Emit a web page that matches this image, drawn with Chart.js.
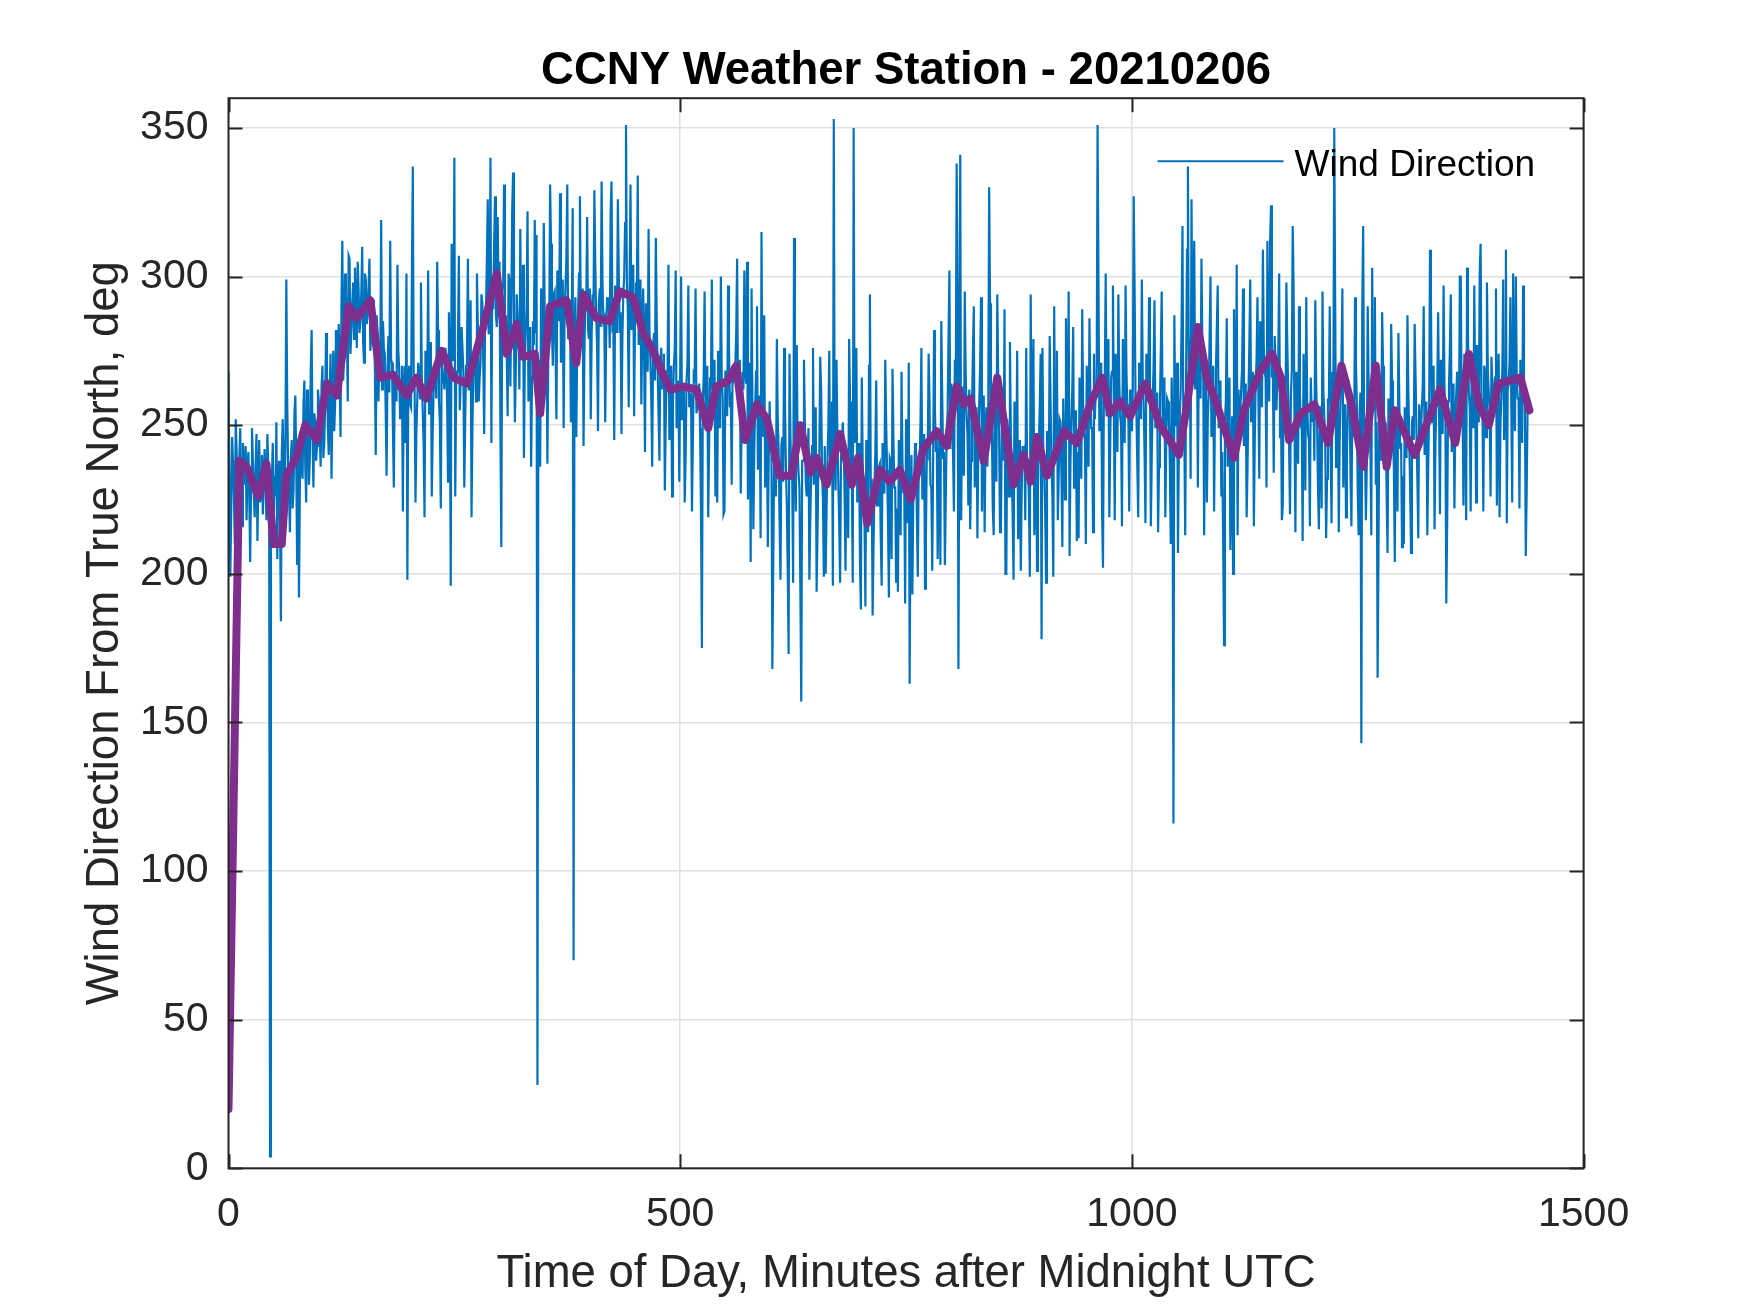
<!DOCTYPE html>
<html>
<head>
<meta charset="utf-8">
<script src="https://cdn.jsdelivr.net/npm/chart.js@4.4.1/dist/chart.umd.min.js"></script>
<style>
  html, body { margin: 0; padding: 0; background: #ffffff; }
  #wrap { width: 1750px; height: 1313px; position: relative; }
  canvas { display: block; }
</style>
</head>
<body>
<div id="wrap"><canvas id="c" width="1750" height="1313"></canvas></div>
<script>
// ---- Data ----
const chartTitle = 'CCNY Weather Station - 20210206';
const xAxisLabel = 'Time of Day, Minutes after Midnight UTC';
const yAxisLabel = 'Wind Direction From True North, deg';
const legendLabel = 'Wind Direction';

const xTickValues = [0, 500, 1000, 1500];
const yTickValues = [0, 50, 100, 150, 200, 250, 300, 350];

// wind direction samples, one per minute starting at minute 0 (20 per row)
const sampleStepMinutes = 1;
const windDirection = [
  268,232,199,221,246,238,226,210,252,241,213,227,239,249,222,216,244,236,230,243,
  218,235,241,226,204,231,249,238,226,219,236,247,211,230,245,224,229,240,220,233,
  242,229,218,247,236,221,4,228,231,244,216,233,226,251,205,232,238,219,184,241,
  252,236,221,243,299,258,236,227,214,239,245,222,228,254,260,237,203,244,192,229,
  248,239,232,257,265,236,224,262,256,230,238,268,282,247,229,254,251,238,243,262,
  258,246,236,263,270,239,244,257,281,266,249,240,262,274,232,255,275,248,257,282,
  268,262,284,270,246,289,312,265,277,301,295,283,258,307,306,274,282,291,298,279,
  303,289,276,305,296,281,285,294,310,278,271,301,299,284,288,296,306,275,280,292,
  292,283,270,240,287,281,258,272,271,319,262,285,276,274,255,233,268,280,261,312,
  272,271,249,229,266,262,258,304,275,268,252,259,270,221,263,270,244,301,198,263,
  270,257,256,300,337,266,262,224,248,259,271,268,259,298,266,255,243,219,275,264,
  262,302,254,268,278,226,247,261,268,270,259,305,282,258,251,222,273,267,266,262,
  276,274,258,231,288,266,196,311,272,272,340,226,264,268,279,307,255,265,283,276,
  268,229,251,270,275,306,262,262,292,219,249,268,271,273,258,301,283,258,266,271,
  294,291,272,247,286,288,306,326,281,281,340,244,298,289,311,327,287,283,320,290,
  305,248,209,296,296,331,282,287,274,253,301,299,263,289,322,335,280,251,268,294,
  286,283,262,316,279,274,304,239,271,281,290,322,258,276,283,236,266,285,277,319,
  281,314,28,269,272,236,296,279,265,318,288,273,279,237,274,283,331,311,283,270,
  294,295,276,252,302,287,285,328,271,293,299,249,288,296,306,331,279,286,292,251,
  287,323,70,281,293,246,278,289,301,327,284,284,296,243,275,291,290,320,282,279,
  296,252,281,294,289,329,304,287,277,248,292,296,283,332,298,285,286,251,279,293,
  291,291,276,322,332,283,284,245,297,289,281,326,301,281,288,247,279,294,300,318,
  351,297,289,256,298,331,282,291,304,253,286,298,293,334,277,288,299,257,284,296,
  275,241,291,283,268,316,282,272,259,236,277,281,265,313,286,269,254,238,271,276,
  262,271,274,228,251,268,268,304,245,263,270,226,258,270,276,302,249,262,265,231,
  268,300,252,258,263,224,239,265,271,297,256,259,260,221,244,267,266,296,254,256,
  262,264,249,222,175,258,266,295,251,262,270,219,243,266,262,299,255,255,272,226,
  258,224,275,266,249,300,266,259,220,221,268,268,253,297,277,256,261,230,270,265,
  266,270,281,306,259,262,272,227,250,268,262,302,268,264,305,225,241,271,204,296,
  256,215,242,256,268,290,235,248,260,212,315,255,246,287,229,246,251,209,238,258,
  244,244,168,203,239,237,226,279,252,241,218,198,243,246,231,276,257,236,224,202,
  173,274,247,232,232,197,313,240,221,277,242,234,229,195,157,238,238,272,251,231,
  226,239,249,198,218,233,243,276,230,240,256,194,214,237,240,273,262,234,225,199,
  243,200,221,238,250,275,233,233,258,196,353,241,228,272,246,231,217,197,239,239,
  251,243,226,201,242,236,212,279,258,240,231,197,350,244,249,276,224,235,244,203,
  188,266,238,224,219,189,245,231,214,270,294,226,232,186,209,229,241,265,223,223,
  236,237,212,196,244,230,227,272,251,235,218,192,239,238,205,269,246,229,229,197,
  222,194,245,233,213,268,238,227,229,190,252,235,217,271,163,226,240,193,226,232,
  244,240,219,199,236,237,251,276,225,233,247,195,213,241,240,274,258,230,229,201,
  238,282,255,241,247,205,232,247,203,285,261,239,241,203,226,248,254,279,302,242,
  264,262,241,221,272,256,338,297,168,260,341,218,252,263,233,295,268,254,247,223,
  262,215,238,255,275,290,229,248,256,212,244,257,270,293,221,250,260,214,248,256,
  236,256,330,291,245,249,222,213,258,258,231,294,266,247,214,215,249,255,238,289,
  200,200,252,241,226,278,247,235,219,198,258,240,233,275,212,237,245,201,228,243,
  241,242,218,276,236,236,225,199,294,240,250,279,213,233,244,201,229,244,256,274,
  178,276,239,235,221,197,248,240,232,280,257,236,226,199,290,242,243,275,218,233,
  252,251,234,209,259,245,225,286,247,249,295,206,238,252,262,283,229,244,255,211,
  241,212,266,253,232,289,258,247,245,210,270,255,236,286,261,249,249,214,274,252,
  262,264,351,298,248,257,271,221,202,262,266,301,253,255,279,219,244,266,268,297,
  256,218,274,259,241,294,265,253,250,216,279,261,244,297,268,255,257,221,262,258,
  248,262,327,296,259,255,236,219,271,260,252,299,266,257,241,217,274,264,258,293,
  263,216,240,258,270,292,249,252,261,214,236,257,275,295,252,250,266,219,244,259,
  258,252,237,210,266,246,116,287,250,250,271,207,243,253,262,284,317,245,248,213,
  266,309,337,266,279,232,326,273,291,312,262,268,284,229,270,275,259,306,277,265,
  213,266,268,224,252,260,279,300,246,263,270,221,258,268,283,297,249,259,265,226,
  241,211,176,251,258,286,236,246,266,208,230,253,200,289,249,244,304,213,262,250,
  255,262,270,296,243,255,264,219,236,260,277,299,251,257,268,216,245,264,272,293,
  262,232,285,273,256,309,276,268,266,229,312,275,258,312,324,266,270,234,280,272,
  255,266,272,301,246,259,218,223,266,264,251,298,278,261,243,220,260,268,317,296,
  249,214,268,255,237,290,261,249,252,211,274,257,228,293,258,247,245,216,266,254,
  251,258,238,292,264,251,229,215,256,256,222,295,261,253,243,212,232,259,257,290,
  241,217,268,258,350,293,236,252,262,214,245,260,273,296,229,250,257,219,240,257,
  265,259,232,216,258,253,246,293,271,257,227,213,254,261,143,290,317,251,243,218,
  236,290,266,249,244,213,303,255,258,293,230,251,165,210,262,256,238,288,270,247,
  248,249,226,207,259,243,241,284,265,247,236,204,252,251,221,281,258,242,244,209,
  233,210,256,251,239,287,262,245,228,207,251,253,245,284,266,247,232,212,257,250,
  248,256,264,290,240,249,258,213,236,254,309,293,251,251,270,215,243,258,262,288,
  255,220,272,261,247,297,263,255,190,217,258,263,276,294,241,256,264,222,252,260,
  268,266,245,300,300,259,259,223,274,264,218,303,281,261,256,221,267,268,249,297,
  262,224,277,265,251,301,311,259,258,221,270,267,246,298,268,261,255,226,273,264,
  259,262,266,296,223,255,274,219,251,260,268,299,245,257,309,217,262,264,271,293,
  256,224,301,265,248,300,266,259,259,222,272,267,244,297,263,260,206,228,256,258
];

// running-mean trace (purple), read at its turning points
const meanMinutes = [
  0,12,20,33,42,50,59,64,75,85,98,109,120,133,142,157,168,182,197,208,
  219,236,249,264,282,297,308,319,326,339,345,356,374,385,393,407,422,433,448,459,
  470,481,489,504,518,531,540,553,562,572,585,596,610,623,633,644,651,662,677,690,
  697,707,721,732,743,755,769,784,795,806,814,821,836,851,858,869,880,888,895,906,
  925,939,954,967,976,987,998,1015,1031,1052,1061,1073,1083,1094,1113,1124,1142,1155,1165,1174,
  1187,1202,1217,1232,1243,1256,1270,1282,1291,1313,1341,1358,1373,1384,1395,1406,1430,1440
];
const meanDirection = [
  20,238,236,226,237,210,210,233,239,250,245,264,260,290,286,292,266,267,260,266,
  259,275,266,264,283,301,274,284,273,274,254,290,292,271,294,286,285,295,293,281,
  275,267,262,263,262,249,263,265,270,245,257,252,233,233,250,234,239,230,247,230,
  239,217,235,231,235,225,242,248,243,263,257,259,238,266,252,230,240,231,246,233,
  248,244,257,266,254,258,253,264,250,240,257,283,266,257,239,255,268,274,266,245,
  254,257,244,270,257,236,270,236,255,240,262,244,274,257,250,264,266,255
];

// ---- Build datasets from the arrays ----
const windPoints = windDirection.map((v, i) => ({ x: i * sampleStepMinutes, y: v }));
const meanPoints = meanMinutes.map((m, i) => ({ x: m, y: meanDirection[i] }));

const FONT = '"Liberation Sans", Arial, Helvetica, sans-serif';
const AXIS_COLOR = '#262626';
const TICK_LEN = 14;

const framePlugin = {
  id: 'framePlugin',
  afterDraw(chart) {
    const { ctx, chartArea: a, scales: { x, y } } = chart;
    ctx.save();
    ctx.strokeStyle = AXIS_COLOR;
    ctx.lineWidth = 2;
    ctx.beginPath();
    yTickValues.forEach(v => {
      const py = Math.round(y.getPixelForValue(v)) + 0.5;
      ctx.moveTo(a.left, py); ctx.lineTo(a.left + TICK_LEN, py);
      ctx.moveTo(a.right, py); ctx.lineTo(a.right - TICK_LEN, py);
    });
    xTickValues.forEach(v => {
      const px = Math.round(x.getPixelForValue(v)) + 0.5;
      ctx.moveTo(px, a.bottom); ctx.lineTo(px, a.bottom - TICK_LEN);
      ctx.moveTo(px, a.top); ctx.lineTo(px, a.top + TICK_LEN);
    });
    ctx.stroke();
    ctx.strokeRect(a.left, a.top, a.right - a.left, a.bottom - a.top);

    // legend (inside the axes, top right, no box)
    const lx0 = a.right - 426, lx1 = a.right - 300, ly = a.top + 63;
    ctx.strokeStyle = '#0072BD';
    ctx.lineWidth = 2;
    ctx.beginPath();
    ctx.moveTo(lx0, ly); ctx.lineTo(lx1, ly);
    ctx.stroke();
    ctx.fillStyle = '#000000';
    ctx.font = '37px ' + FONT;
    ctx.textAlign = 'left';
    ctx.textBaseline = 'alphabetic';
    ctx.fillText(legendLabel, a.right - 289, a.top + 78);
    ctx.restore();
  }
};

new Chart(document.getElementById('c'), {
  type: 'line',
  data: {
    datasets: [
      {
        label: 'Running mean',
        data: meanPoints,
        borderColor: '#7E2F8E',
        borderWidth: 8,
        pointRadius: 0,
        tension: 0,
        order: 0,
        borderJoinStyle: 'round',
        borderCapStyle: 'round'
      },
      {
        label: legendLabel,
        data: windPoints,
        borderColor: '#0072BD',
        borderWidth: 2.2,
        pointRadius: 0,
        tension: 0,
        order: 1
      }
    ]
  },
  options: {
    responsive: false,
    devicePixelRatio: 1,
    animation: false,
    layout: { padding: { left: 0, right: 166.4, top: 0, bottom: 0 } },
    plugins: {
      legend: { display: false },
      tooltip: { enabled: false },
      title: {
        display: true,
        text: chartTitle,
        fullSize: false,
        color: '#000000',
        font: { family: FONT, size: 45.5, weight: 'bold', lineHeight: 1 },
        padding: { top: 49, bottom: 3.7 }
      }
    },
    scales: {
      x: {
        type: 'linear',
        min: 0,
        max: 1500,
        afterBuildTicks: s => { s.ticks = xTickValues.map(v => ({ value: v })); },
        afterFit: s => { s.height = 144.7; },
        ticks: { color: AXIS_COLOR, font: { family: FONT, size: 41 }, padding: 22, maxRotation: 0, autoSkip: false,
                 callback: v => String(v) },
        grid: { color: '#DFDFDF', lineWidth: 1.5, drawTicks: false },
        border: { display: false },
        title: { display: true, text: xAxisLabel, color: AXIS_COLOR, font: { family: FONT, size: 45.5 }, padding: { top: 0, bottom: 10.8 } }
      },
      y: {
        type: 'linear',
        min: 0,
        max: 360,
        afterBuildTicks: s => { s.ticks = yTickValues.map(v => ({ value: v })); },
        afterFit: s => { s.width = 228.5; },
        ticks: { color: AXIS_COLOR, font: { family: FONT, size: 41 }, padding: 20, callback: v => String(v) },
        grid: { color: '#DFDFDF', lineWidth: 1.5, drawTicks: false },
        border: { display: false },
        title: { display: true, text: yAxisLabel, color: AXIS_COLOR, font: { family: FONT, size: 45.5 }, padding: { top: 78, bottom: 0 } }
      }
    }
  },
  plugins: [framePlugin]
});
</script>
</body>
</html>
